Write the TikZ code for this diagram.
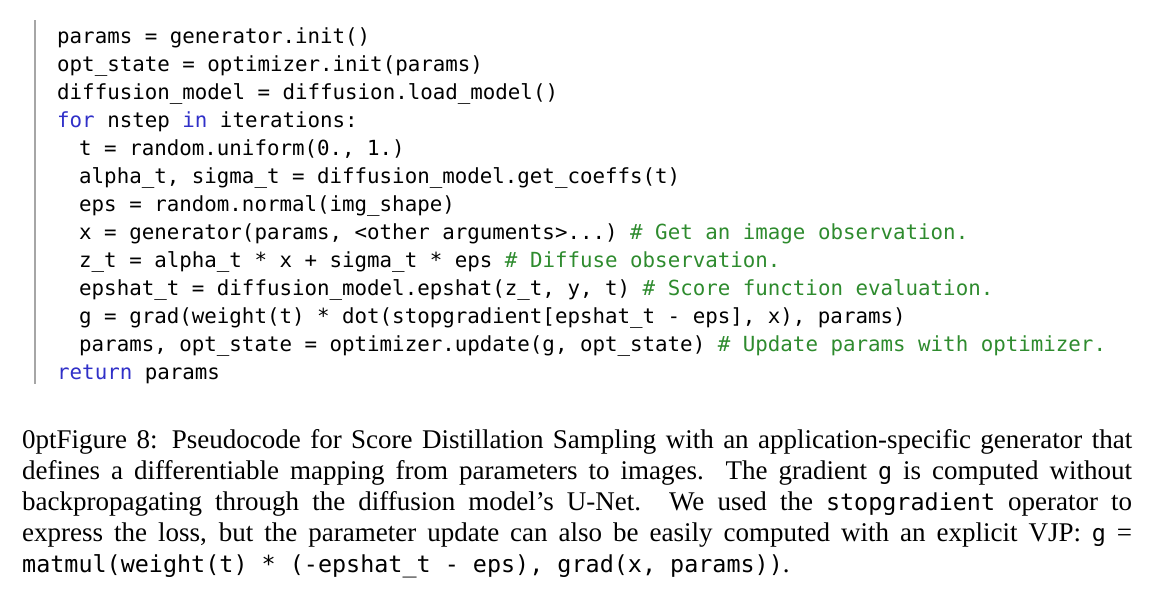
\documentclass[tikz,border=0pt]{standalone}
\usepackage{fontspec}
\setmainfont{Liberation Serif}
\setmonofont{DejaVu Sans Mono}
\definecolor{kw}{HTML}{3030C8}
\definecolor{cm}{HTML}{2E8B2E}
\tikzset{cl/.style={anchor=base west,inner sep=0pt,font=\fontsize{20.8}{24}\ttfamily}}
\newcommand{\kwd}[1]{\textcolor{kw}{#1}}
\newcommand{\cmt}[1]{\textcolor{cm}{#1}}
\newcommand{\ct}[1]{{\ttfamily\fontsize{23.4}{31}\selectfont #1}}
\begin{document}
\begin{tikzpicture}[x=1pt,y=-1pt]
\useasboundingbox (0,0) rectangle (1160,603);
\draw[gray!70,line width=1.2pt] (35,20) -- (35,384);
\def\a{57}\def\b{79}
\node[cl] (l1) at (\a,43) {params = generator.init()};
\node[cl] (l2) at (\a,71) {opt\_state = optimizer.init(params)};
\node[cl] (l3) at (\a,99) {diffusion\_model = diffusion.load\_model()};
\node[cl] (l4) at (\a,127) {\kwd{for} nstep \kwd{in} iterations:};
\node[cl] (l5) at (\b,155) {t = random.uniform(0., 1.)};
\node[cl] (l6) at (\b,183) {alpha\_t, sigma\_t = diffusion\_model.get\_coeffs(t)};
\node[cl] (l7) at (\b,211) {eps = random.normal(img\_shape)};
\node[cl] (l8) at (\b,239) {x = generator(params, <other arguments>...) \cmt{\# Get an image observation.}};
\node[cl] (l9) at (\b,267) {z\_t = alpha\_t * x + sigma\_t * eps \cmt{\# Diffuse observation.}};
\node[cl] (l10) at (\b,295) {epshat\_t = diffusion\_model.epshat(z\_t, y, t) \cmt{\# Score function evaluation.}};
\node[cl] (l11) at (\b,323) {g = grad(weight(t) * dot(stopgradient[epshat\_t - eps], x), params)};
\node[cl] (l12) at (\b,351) {params, opt\_state = optimizer.update(g, opt\_state) \cmt{\# Update params with optimizer.}};
\node[cl] (l13) at (\a,379) {\kwd{return} params};
\node[anchor=north west,inner sep=0pt,text width=1110pt,align=justify,
  font=\fontsize{27}{31}\selectfont\hyphenpenalty=10000] (cap) at (22,429)
{Figure 8: Pseudocode for Score Distillation Sampling with an application-specific generator that\linebreak defines a differentiable mapping from parameters to images. The gradient \ct{g} is computed without\linebreak backpropagating through the diffusion model's U-Net. We used the \ct{stopgradient} operator to\linebreak express the loss, but the parameter update can also be easily computed with an explicit VJP: \ct{g} =\linebreak \ct{matmul(weight(t) * (-epshat\_t - eps), grad(x, params))}.};
\end{tikzpicture}
\end{document}
